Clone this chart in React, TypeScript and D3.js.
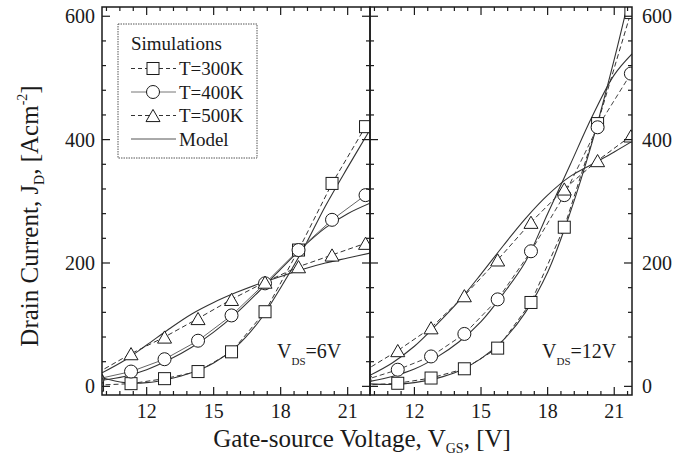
import React from 'react';
import * as d3 from 'd3';

const W = 676;
const H = 464;

// Simulation sample positions (V_GS) and values (A/cm^2)
const simXLeft = [9.8, 11.3, 12.8, 14.3, 15.8, 17.3, 18.8, 20.3, 21.8];
const simXRight = [9.75, 11.25, 12.75, 14.25, 15.75, 17.25, 18.75, 20.25, 21.75];

const sim300Left = [2, 4.4, 12.5, 24, 56, 121, 221, 329, 421];
const sim400Left = [12, 24, 44, 74, 115, 167, 221, 270, 310];
const sim500Left = [22, 53, 80, 110, 141, 169, 194, 213, 232];

const sim300Right = [2, 5, 13.5, 28.5, 62, 136, 258, 426, 606];
const sim400Right = [10, 27, 48.5, 85, 141, 219, 310, 420, 507];
const sim500Right = [25, 58, 95, 147, 205, 266, 320, 366, 406];

// Model curves
const modelXLeft = [10, 11, 12, 13, 14, 15, 16, 17, 18, 19, 20, 21, 22];
const model300Left = [14, 6, 6, 12, 22, 38, 64, 104, 160, 222, 292, 355, 416];
const model400Left = [10, 16, 27, 43, 63, 88, 118, 153, 190, 226, 257, 280, 297];
const model500Left = [22, 42, 67, 93, 117, 136, 152, 166, 178, 190, 200, 208, 216];

const modelXRight = [10, 11, 12, 13, 14, 15, 16, 17, 18, 19, 20, 21, 21.8];
const model300Right = [4, 3, 6, 13, 25, 45, 75, 120, 185, 280, 395, 530, 650];
const model400Right = [8, 16, 28, 47, 72, 105, 150, 202, 280, 358, 437, 505, 539];
const model500Right = [18, 38, 65, 100, 138, 182, 228, 272, 310, 340, 360, 380, 397];

const yTickValues = [0, 200, 400, 600];
const xTickValues = [12, 15, 18, 21];
const legendLabels = ['T=300K', 'T=400K', 'T=500K', 'Model'];

const FONT = "'Liberation Serif', 'Times New Roman', Times, 'DejaVu Serif', serif";
const INK = '#1a1a1a';

const TOP = 7;
const BOTTOM = 395;
const yScale = d3.scaleLinear().domain([-14, 615]).range([BOTTOM, TOP]);

type MarkerKind = 'square' | 'circle' | 'triangle';

function Marker({ kind, cx, cy }: { kind: MarkerKind; cx: number; cy: number }) {
  const common = { fill: 'white', stroke: INK, strokeWidth: 1 };
  if (kind === 'square') return <rect x={cx - 6} y={cy - 6} width={12} height={12} {...common} />;
  if (kind === 'circle') return <circle cx={cx} cy={cy} r={6.5} {...common} />;
  const s = 14;
  const h = s * 0.87;
  const pts = `${cx - s / 2},${cy + h / 2} ${cx + s / 2},${cy + h / 2} ${cx},${cy - h / 2}`;
  return <polygon points={pts} {...common} />;
}

type PanelProps = {
  id: string;
  x0: number;
  x1: number;
  domain: [number, number];
  simX: number[];
  sims: number[][];
  modelX: number[];
  models: number[][];
  simDash: string[];
  simColor: string[];
  vdsText: string;
  vdsX: number;
  leftLabels: boolean;
  rightLabels: boolean;
};

const kinds: MarkerKind[] = ['square', 'circle', 'triangle'];

function Panel(p: PanelProps) {
  const x = d3.scaleLinear().domain(p.domain).range([p.x0, p.x1]);
  const y = yScale;
  const line = d3
    .line<[number, number]>()
    .x((d) => x(d[0]))
    .y((d) => y(d[1]));
  const curve = d3
    .line<[number, number]>()
    .curve(d3.curveCatmullRom.alpha(0.5))
    .x((d) => x(d[0]))
    .y((d) => y(d[1]));

  const yMinor = d3.range(0, 601, 40);
  const xMinor: number[] = [];
  for (let v = 10.2; v < p.domain[1] - 0.05; v += 0.6) xMinor.push(Math.round(v * 10) / 10);

  const ticks: any[] = [];
  yMinor.forEach((v, i) => {
    const major = v % 200 === 0;
    const len = major ? 8 : 4;
    const yy = y(v);
    ticks.push(<line key={`yl${i}`} x1={p.x0} x2={p.x0 + len} y1={yy} y2={yy} stroke={INK} strokeWidth={1.2} />);
    ticks.push(<line key={`yr${i}`} x1={p.x1} x2={p.x1 - len} y1={yy} y2={yy} stroke={INK} strokeWidth={1.2} />);
  });
  xMinor.forEach((v, i) => {
    const major = xTickValues.some((t) => Math.abs(t - v) < 0.01);
    const len = major ? 8 : 4;
    const xx = x(v);
    ticks.push(<line key={`xb${i}`} x1={xx} x2={xx} y1={BOTTOM} y2={BOTTOM - len} stroke={INK} strokeWidth={1.2} />);
    ticks.push(<line key={`xt${i}`} x1={xx} x2={xx} y1={TOP} y2={TOP + len} stroke={INK} strokeWidth={1.2} />);
  });

  return (
    <g>
      <defs>
        <clipPath id={p.id}>
          <rect x={p.x0} y={TOP} width={p.x1 - p.x0} height={BOTTOM - TOP} />
        </clipPath>
      </defs>
      <g clipPath={`url(#${p.id})`}>
        {p.models.map((m, i) => (
          <path
            key={`m${i}`}
            d={curve(p.modelX.map((xv, j) => [xv, m[j]] as [number, number])) || ''}
            fill="none"
            stroke="#333"
            strokeWidth={1.1}
          />
        ))}
        {p.sims.map((s, i) => (
          <path
            key={`s${i}`}
            d={line(p.simX.map((xv, j) => [xv, s[j]] as [number, number])) || ''}
            fill="none"
            stroke={p.simColor[i]}
            strokeWidth={1}
            strokeDasharray={p.simDash[i]}
          />
        ))}
        {p.sims.map((s, i) =>
          s.map((v, j) => <Marker key={`k${i}-${j}`} kind={kinds[i]} cx={x(p.simX[j])} cy={y(v)} />)
        )}
      </g>
      {ticks}
      <rect x={p.x0} y={TOP} width={p.x1 - p.x0} height={BOTTOM - TOP} fill="none" stroke={INK} strokeWidth={1.5} />
      {xTickValues.map((t) => (
        <text key={`xl${t}`} x={x(t)} y={418} textAnchor="middle" style={{ fontFamily: FONT }} fontSize={20} fill={INK}>
          {t}
        </text>
      ))}
      {p.leftLabels &&
        yTickValues.map((t) => (
          <text key={`yl${t}`} x={95} y={y(t) + 7} textAnchor="end" style={{ fontFamily: FONT }} fontSize={20} fill={INK}>
            {t}
          </text>
        ))}
      {p.rightLabels &&
        yTickValues.map((t) => (
          <text key={`yr${t}`} x={642} y={y(t) + 7} textAnchor="start" style={{ fontFamily: FONT }} fontSize={20} fill={INK}>
            {t}
          </text>
        ))}
      <text x={p.vdsX} y={358} style={{ fontFamily: FONT }} fontSize={20} fill={INK}>
        V
        <tspan fontSize={11} dy={7}>DS</tspan>
        <tspan dy={-7}>{p.vdsText}</tspan>
      </text>
    </g>
  );
}

function Legend() {
  const x0 = 118;
  const y0 = 24;
  const rows = [
    { dash: '4,3', kind: 'square' as MarkerKind, color: '#333' },
    { dash: '', kind: 'circle' as MarkerKind, color: '#777' },
    { dash: '4,3', kind: 'triangle' as MarkerKind, color: '#333' },
    { dash: '', kind: null, color: '#555' },
  ];
  return (
    <g>
      <rect x={x0} y={y0} width={139} height={134} fill="white" stroke="#555" strokeWidth={1} strokeDasharray="1.5,1" />
      <text x={131} y={50} style={{ fontFamily: FONT }} fontSize={19} fill={INK}>
        Simulations
      </text>
      {rows.map((r, i) => {
        const base = 75 + i * 23.5;
        const ly = base - 6.5;
        return (
          <g key={i}>
            <line x1={131} x2={176} y1={ly} y2={ly} stroke={r.color} strokeWidth={1} strokeDasharray={r.dash} />
            {r.kind && <Marker kind={r.kind} cx={153} cy={ly} />}
            <text x={179} y={base} style={{ fontFamily: FONT }} fontSize={19} fill={INK}>
              {legendLabels[i]}
            </text>
          </g>
        );
      })}
    </g>
  );
}

export default function App() {
  return (
    <svg
      width={W}
      height={H}
      viewBox={`0 0 ${W} ${H}`}
      style={{ position: 'absolute', left: 0, top: 0, background: 'white' }}
    >
      <rect width={W} height={H} fill="white" />
      <Panel
        id="clipL"
        x0={102}
        x1={370}
        domain={[10, 22]}
        simX={simXLeft}
        sims={[sim300Left, sim400Left, sim500Left]}
        modelX={modelXLeft}
        models={[model300Left, model400Left, model500Left]}
        simDash={['5,3', '', '5,3']}
        simColor={['#333', '#666', '#333']}
        vdsText="=6V"
        vdsX={277}
        leftLabels={true}
        rightLabels={false}
      />
      <Panel
        id="clipR"
        x0={370}
        x1={632}
        domain={[10, 21.8]}
        simX={simXRight}
        sims={[sim300Right, sim400Right, sim500Right]}
        modelX={modelXRight}
        models={[model300Right, model400Right, model500Right]}
        simDash={['5,3', '5,3', '5,3']}
        simColor={['#333', '#444', '#333']}
        vdsText="=12V"
        vdsX={542}
        leftLabels={false}
        rightLabels={true}
      />
      <Legend />
      <text
        transform="translate(38,216) rotate(-90)"
        textAnchor="middle"
        style={{ fontFamily: FONT }}
        fontSize={25}
        fill={INK}
      >
        Drain Current, J<tspan fontSize={14} dy={6}>D</tspan>
        <tspan dy={-6}>, [Acm</tspan>
        <tspan fontSize={14} dy={-11}>-2</tspan>
        <tspan dy={11}>]</tspan>
      </text>
      <text x={362} y={447} textAnchor="middle" style={{ fontFamily: FONT }} fontSize={25} fill={INK}>
        Gate-source Voltage, V<tspan fontSize={14} dy={6}>GS</tspan>
        <tspan dy={-6}>, [V]</tspan>
      </text>
    </svg>
  );
}
